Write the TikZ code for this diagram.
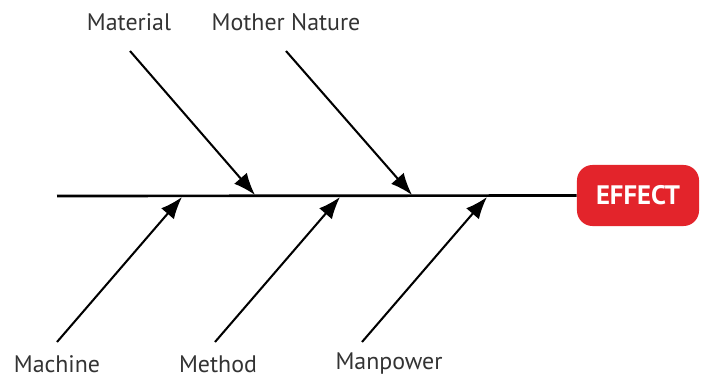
\documentclass[tikz,border=0pt]{standalone}
\usepackage{fontspec}
\setmainfont{PT Sans}
\usetikzlibrary{arrows.meta}
\definecolor{effectRed}{HTML}{E3242B}
\definecolor{labelGray}{HTML}{333333}

\begin{document}
\begin{tikzpicture}[
        x=0.025cm, y=-0.025cm,
        cause/.style={font=\fontsize{17}{20}\selectfont, text=labelGray, inner sep=0pt},
        effectbox/.style={rectangle, rounded corners=11pt, fill=effectRed, minimum width=3.05cm, minimum height=1.525cm, text=white, font=\fontsize{19}{22}\selectfont\bfseries},
        spine/.style={line width=1.9pt},
        bone/.style={-{Latex[length=5.5mm, width=4.2mm]}, line width=1.45pt}
      ]
        \useasboundingbox (0,0) rectangle (703,381);
        \node[effectbox] (effect) at (638,195.5) {EFFECT};
        \coordinate (tail) at (57,196);
        \draw[spine] (tail) -- (effect.west);
        % causes above the spine
        \node[cause] (material) at (129,22) {Material};
        \node[cause] (nature) at (286,22) {Mother Nature};
        \coordinate (s1) at (130,51);
        \coordinate (s2) at (286,51);
        \coordinate (e1) at (255,195);
        \coordinate (e2) at (412,195);
        \draw[bone] (s1) -- (e1);
        \draw[bone] (s2) -- (e2);
        % causes below the spine
        \node[cause] (machine) at (57,364) {Machine};
        \node[cause] (method) at (218,364) {Method};
        \node[cause] (manpower) at (389,364) {Manpower};
        \coordinate (s3) at (57,342);
        \coordinate (s4) at (215,342);
        \coordinate (s5) at (362,342);
        \coordinate (e3) at (182,197);
        \coordinate (e4) at (340,197);
        \coordinate (e5) at (487,197);
        \draw[bone] (s3) -- (e3);
        \draw[bone] (s4) -- (e4);
        \draw[bone] (s5) -- (e5);
      \end{tikzpicture}
\end{document}
